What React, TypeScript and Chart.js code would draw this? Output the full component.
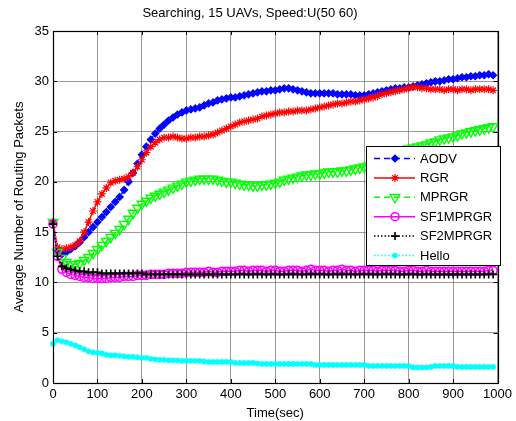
import React, { useEffect, useRef } from 'react';
import { Chart, registerables } from 'chart.js';
import { drawPoint } from 'chart.js/helpers';

Chart.register(...registerables);

const TIMES = [
  0, 10, 20, 30, 40, 50, 60, 70, 80, 90,
  100, 110, 120, 130, 140, 150, 160, 170, 180, 190,
  200, 210, 220, 230, 240, 250, 260, 270, 280, 290,
  300, 310, 320, 330, 340, 350, 360, 370, 380, 390,
  400, 410, 420, 430, 440, 450, 460, 470, 480, 490,
  500, 510, 520, 530, 540, 550, 560, 570, 580, 590,
  600, 610, 620, 630, 640, 650, 660, 670, 680, 690,
  700, 710, 720, 730, 740, 750, 760, 770, 780, 790,
  800, 810, 820, 830, 840, 850, 860, 870, 880, 890,
  900, 910, 920, 930, 940, 950, 960, 970, 980, 990,
];

const AODV = [
  16.0, 13.2, 12.8, 13.0, 13.3, 13.6, 14.0, 14.5, 15.0, 15.5,
  16.0, 16.5, 17.0, 17.5, 18.0, 18.5, 19.2, 20.0, 20.9, 21.8,
  22.7, 23.5, 24.2, 24.8, 25.3, 25.7, 26.1, 26.4, 26.7, 26.9,
  27.1, 27.2, 27.3, 27.4, 27.6, 27.8, 27.9, 28.1, 28.2, 28.3,
  28.4, 28.4, 28.5, 28.6, 28.7, 28.8, 28.9, 29.0, 29.0, 29.1,
  29.1, 29.2, 29.3, 29.3, 29.2, 29.1, 29.0, 28.9, 28.8, 28.8,
  28.8, 28.8, 28.8, 28.8, 28.7, 28.7, 28.7, 28.7, 28.6, 28.6,
  28.6, 28.7, 28.8, 28.9, 29.0, 29.1, 29.2, 29.3, 29.3, 29.4,
  29.4, 29.5, 29.6, 29.7, 29.8, 29.9, 30.0, 30.0, 30.1, 30.2,
  30.2, 30.3, 30.4, 30.4, 30.5, 30.5, 30.6, 30.6, 30.7, 30.6,
];

const RGR = [
  16.0, 13.5, 13.3, 13.4, 13.5, 13.7, 14.1, 15.0, 16.0, 17.1,
  18.0, 18.8, 19.4, 19.9, 20.1, 20.2, 20.3, 20.5, 20.9, 21.5,
  22.2, 22.9, 23.5, 23.9, 24.2, 24.4, 24.4, 24.5, 24.4, 24.3,
  24.3, 24.4, 24.4, 24.5, 24.5, 24.6, 24.7, 24.9, 25.1, 25.3,
  25.5, 25.7, 25.9, 26.0, 26.1, 26.2, 26.3, 26.5, 26.6, 26.7,
  26.8, 26.9, 26.9, 27.0, 27.0, 27.1, 27.1, 27.1, 27.2, 27.3,
  27.4, 27.5, 27.6, 27.7, 27.8, 27.8, 27.9, 28.0, 28.0, 28.1,
  28.2, 28.3, 28.4, 28.5, 28.7, 28.8, 28.9, 29.0, 29.1, 29.2,
  29.3, 29.4, 29.4, 29.3, 29.3, 29.2, 29.2, 29.2, 29.1, 29.2,
  29.2, 29.1, 29.2, 29.2, 29.1, 29.2, 29.2, 29.2, 29.2, 29.1,
];

const MPRGR = [
  16.0, 13.0, 12.4, 12.0, 11.8, 11.8, 11.9, 12.2, 12.5, 12.9,
  13.3, 13.7, 14.1, 14.5, 14.9, 15.3, 15.8, 16.3, 16.9, 17.4,
  17.8, 18.1, 18.4, 18.6, 18.8, 19.0, 19.2, 19.4, 19.6, 19.8,
  20.0, 20.1, 20.2, 20.3, 20.3, 20.3, 20.3, 20.2, 20.1, 20.0,
  20.0, 19.9, 19.8, 19.7, 19.7, 19.6, 19.6, 19.7, 19.7, 19.8,
  19.9, 20.0, 20.2, 20.3, 20.4, 20.5, 20.6, 20.7, 20.7, 20.8,
  20.8, 20.9, 21.0, 21.0, 21.0, 21.1, 21.1, 21.2, 21.3, 21.4,
  21.5, 21.6, 21.8, 22.0, 22.2, 22.4, 22.6, 22.8, 23.0, 23.2,
  23.3, 23.4, 23.5, 23.6, 23.7, 23.9, 24.0, 24.2, 24.3, 24.4,
  24.5, 24.6, 24.8, 24.9, 25.0, 25.1, 25.2, 25.3, 25.4, 25.5,
];

const SF1MPRGR = [
  15.8, 12.6, 11.3, 11.0, 10.8, 10.7, 10.6, 10.5, 10.5, 10.4,
  10.4, 10.4, 10.4, 10.5, 10.5, 10.5, 10.6, 10.6, 10.6, 10.7,
  10.7, 10.7, 10.8, 10.8, 10.8, 10.8, 10.9, 10.9, 10.9, 10.9,
  11.0, 11.0, 11.0, 11.0, 11.0, 11.1, 11.0, 11.0, 11.1, 11.1,
  11.1, 11.1, 11.2, 11.2, 11.1, 11.2, 11.2, 11.2, 11.1, 11.2,
  11.2, 11.1, 11.1, 11.2, 11.2, 11.2, 11.1, 11.2, 11.3, 11.2,
  11.2, 11.2, 11.1, 11.2, 11.2, 11.3, 11.2, 11.2, 11.1, 11.2,
  11.2, 11.2, 11.2, 11.1, 11.2, 11.2, 11.2, 11.2, 11.1, 11.1,
  11.2, 11.2, 11.1, 11.1, 11.2, 11.1, 11.1, 11.1, 11.1, 11.1,
  11.1, 11.1, 11.1, 11.1, 11.1, 11.1, 11.1, 11.1, 11.2, 11.2,
];

const SF2MPRGR = [
  15.8, 12.6, 11.6, 11.4, 11.3, 11.2, 11.1, 11.1, 11.0, 11.0,
  11.0, 10.9, 10.9, 10.9, 10.9, 10.9, 10.9, 10.9, 10.9, 10.9,
  10.9, 10.8, 10.8, 10.8, 10.8, 10.8, 10.8, 10.8, 10.8, 10.8,
  10.8, 10.8, 10.8, 10.8, 10.8, 10.8, 10.8, 10.8, 10.8, 10.8,
  10.8, 10.8, 10.8, 10.8, 10.8, 10.8, 10.8, 10.8, 10.8, 10.8,
  10.8, 10.8, 10.8, 10.8, 10.8, 10.8, 10.8, 10.8, 10.8, 10.8,
  10.8, 10.8, 10.8, 10.8, 10.8, 10.8, 10.8, 10.8, 10.8, 10.8,
  10.8, 10.8, 10.8, 10.8, 10.8, 10.8, 10.8, 10.8, 10.8, 10.8,
  10.8, 10.8, 10.8, 10.8, 10.8, 10.8, 10.8, 10.8, 10.8, 10.8,
  10.8, 10.8, 10.8, 10.8, 10.8, 10.8, 10.8, 10.8, 10.8, 10.8,
];

const HELLO = [
  3.9, 4.25, 4.15, 4.05, 3.9, 3.75, 3.55, 3.35, 3.15, 3.05,
  3.0, 2.95, 2.8, 2.75, 2.75, 2.7, 2.65, 2.6, 2.6, 2.55,
  2.5, 2.5, 2.4, 2.35, 2.3, 2.3, 2.25, 2.25, 2.25, 2.2,
  2.2, 2.2, 2.2, 2.2, 2.15, 2.1, 2.1, 2.1, 2.1, 2.1,
  2.1, 2.0, 2.0, 2.0, 2.0, 2.0, 1.95, 1.9, 1.9, 1.9,
  1.9, 1.9, 1.9, 1.9, 1.9, 1.9, 1.9, 1.9, 1.9, 1.8,
  1.8, 1.8, 1.8, 1.8, 1.8, 1.8, 1.8, 1.8, 1.8, 1.8,
  1.8, 1.7, 1.7, 1.7, 1.7, 1.7, 1.7, 1.7, 1.7, 1.7,
  1.7, 1.55, 1.55, 1.55, 1.55, 1.6, 1.7, 1.7, 1.7, 1.7,
  1.7, 1.6, 1.6, 1.6, 1.6, 1.6, 1.6, 1.6, 1.6, 1.6,
];

const SERIES_LABELS = ['AODV', 'RGR', 'MPRGR', 'SF1MPRGR', 'SF2MPRGR', 'Hello'];
const X_TICKS = [0, 100, 200, 300, 400, 500, 600, 700, 800, 900, 1000];
const Y_TICKS = [0, 5, 10, 15, 20, 25, 30, 35];
const TITLE = 'Searching, 15 UAVs, Speed:U(50 60)';
const X_TITLE = 'Time(sec)';
const Y_TITLE = 'Average Number of Routing Packets';

const FONT = 'Liberation Sans, Arial, sans-serif';

const pts = (vals: number[]) => vals.map((v, i) => ({ x: TIMES[i], y: v }));

const framePlugin = {
  id: 'matlabFrame',
  afterDraw(chart: any) {
    const { ctx, chartArea: a, scales } = chart;
    ctx.save();
    ctx.strokeStyle = '#000';
    ctx.lineWidth = 1;
    ctx.beginPath();
    X_TICKS.forEach((t) => {
      const x = Math.round(scales.x.getPixelForValue(t)) + 0.5;
      ctx.moveTo(x, a.bottom);
      ctx.lineTo(x, a.bottom - 4);
      ctx.moveTo(x, a.top);
      ctx.lineTo(x, a.top + 4);
    });
    Y_TICKS.forEach((t) => {
      const y = Math.round(scales.y.getPixelForValue(t)) + 0.5;
      ctx.moveTo(a.left, y);
      ctx.lineTo(a.left + 4, y);
      ctx.moveTo(a.right, y);
      ctx.lineTo(a.right - 4, y);
    });
    ctx.stroke();
    ctx.lineWidth = 1.2;
    ctx.strokeRect(Math.round(a.left) + 0.5, Math.round(a.top) + 0.5,
      Math.round(a.right - a.left), Math.round(a.bottom - a.top));

    const bx = 366, by = 146, bw = 134, bh = 119;
    ctx.fillStyle = '#fff';
    ctx.fillRect(bx, by, bw, bh);
    ctx.lineWidth = 1;
    ctx.strokeStyle = '#000';
    ctx.strokeRect(bx + 0.5, by + 0.5, bw, bh);
    chart.data.datasets.forEach((ds: any, i: number) => {
      const y = by + 12.5 + i * 19.4;
      ctx.save();
      ctx.strokeStyle = ds.borderColor;
      ctx.lineWidth = ds.borderWidth;
      ctx.setLineDash(ds.borderDash || []);
      ctx.beginPath();
      ctx.moveTo(bx + 8, y);
      ctx.lineTo(bx + 49, y);
      ctx.stroke();
      ctx.setLineDash([]);
      ctx.fillStyle = ds.pointBackgroundColor;
      ctx.strokeStyle = ds.pointBorderColor;
      ctx.lineWidth = ds.pointBorderWidth;
      drawPoint(ctx, {
        pointStyle: ds.pointStyle,
        radius: ds.pointRadius,
        rotation: ds.pointRotation || 0,
        borderWidth: ds.pointBorderWidth,
      } as any, bx + 29, y);
      ctx.restore();
      ctx.fillStyle = '#000';
      ctx.font = `13px ${FONT}`;
      ctx.textBaseline = 'middle';
      ctx.textAlign = 'left';
      ctx.fillText(ds.label, bx + 54, y + 0.5);
    });
    ctx.restore();
  },
};

export default function App() {
  const ref = useRef<HTMLCanvasElement>(null);
  useEffect(() => {
    const mk = (label: string, data: number[], color: string, opts: any) => ({
      label,
      data: pts(data),
      borderColor: color,
      backgroundColor: color,
      pointBorderColor: color,
      borderWidth: 1.5,
      fill: false,
      tension: 0,
      clip: false,
      ...opts,
    });
    const datasets = [
      mk(SERIES_LABELS[0], AODV, '#0000ff', { borderDash: [6, 4], pointStyle: 'rectRot', pointRadius: 3.5, pointBackgroundColor: '#0000ff', pointBorderWidth: 1.2, order: 6 }),
      mk(SERIES_LABELS[1], RGR, '#ff0000', { pointStyle: 'star', pointRadius: 4, pointBackgroundColor: '#ff0000', pointBorderWidth: 1.2, order: 5 }),
      mk(SERIES_LABELS[2], MPRGR, '#00ff00', { borderDash: [6, 4], pointStyle: 'triangle', pointRotation: 180, pointRadius: 5.5, pointBackgroundColor: 'rgba(0,0,0,0)', pointBorderWidth: 1.4, order: 4 }),
      mk(SERIES_LABELS[3], SF1MPRGR, '#ff00ff', { pointStyle: 'circle', pointRadius: 4, pointBackgroundColor: 'rgba(0,0,0,0)', pointBorderWidth: 1.6, order: 3 }),
      mk(SERIES_LABELS[4], SF2MPRGR, '#000000', { borderDash: [1.5, 2], pointStyle: 'cross', pointRadius: 4, pointBackgroundColor: '#000000', pointBorderWidth: 1.6, order: 2 }),
      mk(SERIES_LABELS[5], HELLO, '#00ffff', { borderDash: [1.5, 2], pointStyle: 'circle', pointRadius: 2.6, pointBackgroundColor: '#00ffff', pointBorderWidth: 0.5, order: 1 }),
    ];
    const chart = new Chart(ref.current as HTMLCanvasElement, {
      type: 'line',
      data: { datasets },
      options: {
        animation: false,
        responsive: false,
        devicePixelRatio: 1,
        layout: { padding: { left: 0, right: 16, top: 0, bottom: 0 } },
        plugins: {
          legend: { display: false },
          tooltip: { enabled: false },
          title: {
            display: true,
            text: TITLE,
            color: '#000',
            font: { family: FONT, size: 13, weight: 'normal' },
            padding: { top: 6, bottom: 9.4 },
          },
        },
        scales: {
          x: {
            type: 'linear',
            min: 0,
            max: 1000,
            afterBuildTicks: (s: any) => { s.ticks = X_TICKS.map((v) => ({ value: v })); },
            afterFit: (s: any) => { s.height = 38; },
            ticks: { color: '#000', font: { family: FONT, size: 13 }, padding: 4, maxRotation: 0, autoSkip: false, callback: (v: any) => String(v) },
            grid: { color: 'rgba(120,120,120,0.75)', lineWidth: 1, drawTicks: false },
            border: { display: false },
            title: { display: true, text: X_TITLE, color: '#000', font: { family: FONT, size: 13 }, padding: { top: 0, bottom: 0 } },
          },
          y: {
            type: 'linear',
            min: 0,
            max: 35,
            afterBuildTicks: (s: any) => { s.ticks = Y_TICKS.map((v) => ({ value: v })); },
            afterFit: (s: any) => { s.width = 53; },
            ticks: { color: '#000', font: { family: FONT, size: 13 }, padding: 4, callback: (v: any) => String(v) },
            grid: { color: 'rgba(120,120,120,0.75)', lineWidth: 1, drawTicks: false },
            border: { display: false },
            title: { display: true, text: Y_TITLE, color: '#000', font: { family: FONT, size: 13 }, padding: { top: 12, bottom: 0 } },
          },
        },
      },
      plugins: [framePlugin],
    } as any);
    return () => chart.destroy();
  }, []);
  return (
    <div style={{ position: 'fixed', left: 0, top: 0, width: 516, height: 421, background: '#fff' }}>
      <canvas ref={ref} width={516} height={421} style={{ width: 516, height: 421 }} />
    </div>
  );
}
